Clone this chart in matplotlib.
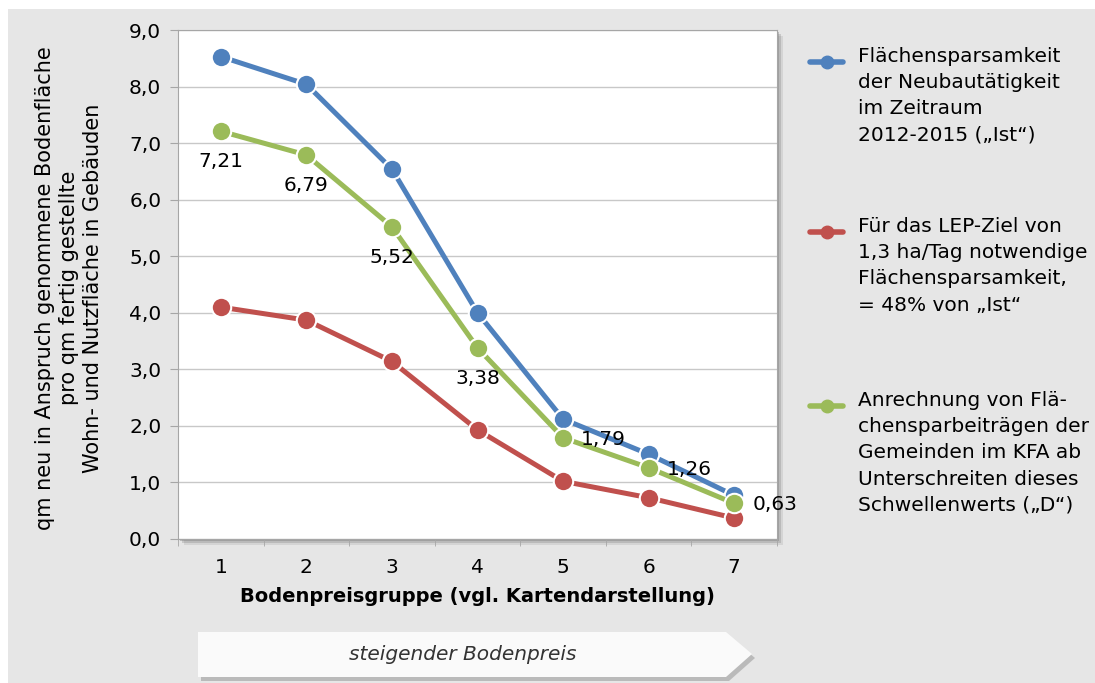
import matplotlib.pyplot as plt
from matplotlib.patches import Rectangle, Polygon

groups = [1, 2, 3, 4, 5, 6, 7]
ist = [8.53, 8.04, 6.54, 4.00, 2.12, 1.50, 0.77]
lep_ziel = [4.10, 3.87, 3.14, 1.93, 1.02, 0.73, 0.37]
anrechnung = [7.21, 6.79, 5.52, 3.38, 1.79, 1.26, 0.63]
anrechnung_labels = ["7,21", "6,79", "5,52", "3,38", "1,79", "1,26", "0,63"]
yticks = [0, 1, 2, 3, 4, 5, 6, 7, 8, 9]
ytick_labels = ["0,0", "1,0", "2,0", "3,0", "4,0", "5,0", "6,0", "7,0", "8,0", "9,0"]

legend_texts = [
    "Flächensparsamkeit\nder Neubautätigkeit\nim Zeitraum\n2012-2015 („Ist“)",
    "Für das LEP-Ziel von\n1,3 ha/Tag notwendige\nFlächensparsamkeit,\n= 48% von „Ist“",
    "Anrechnung von Flä-\nchensparbeiträgen der\nGemeinden im KFA ab\nUnterschreiten dieses\nSchwellenwerts („D“)",
]
colors = ["#4f81bd", "#c0504d", "#9bbb59"]

W, H = 1095, 683
plt.rcParams['font.family'] = 'DejaVu Sans'
fig = plt.figure(figsize=(W / 100, H / 100), dpi=100, facecolor="white")


def fx(px):
    return px / W


def fy(py):
    return 1 - py / H


# grey background panel
fig.patches.append(Rectangle((fx(8), 0), 1, fy(9), transform=fig.transFigure,
                             facecolor="#e6e6e6", edgecolor="none", zorder=0))

ax_l, ax_r, ax_t, ax_b = 178, 777, 30, 539
# plot area shadow
for off, a in [(6, 0.15), (4, 0.25), (2, 0.35)]:
    fig.patches.append(Rectangle((fx(ax_l + off), fy(ax_b + off)), fx(ax_r - ax_l), (ax_b - ax_t) / H,
                                 transform=fig.transFigure, facecolor="#707070", alpha=a,
                                 edgecolor="none", zorder=1))

ax = fig.add_axes([fx(ax_l), fy(ax_b), fx(ax_r - ax_l), (ax_b - ax_t) / H])
ax.set_zorder(2)
ax.set_facecolor("white")

series = [ist, lep_ziel, anrechnung]
for vals, c in zip(series, colors):
    ax.plot(groups, vals, color=c, lw=3.6, marker="o", ms=14, mfc=c, mec="white", mew=1.5,
            solid_joinstyle="round", zorder=3, clip_on=False)

fs = 14.5
for i, (x, y, lab) in enumerate(zip(groups, anrechnung, anrechnung_labels)):
    if i < 4:
        ax.annotate(lab, (x, y), xytext=(0, -22), textcoords="offset points",
                    ha="center", va="center", fontsize=fs, zorder=5)
    else:
        ax.annotate(lab, (x, y), xytext=(13, -1), textcoords="offset points",
                    ha="left", va="center", fontsize=fs, zorder=5)

ax.set_xlim(0.5, 7.5)
ax.set_ylim(0, 9)
ax.set_yticks(yticks)
ax.set_yticklabels(ytick_labels, fontsize=fs)
ax.set_xticks(groups)
ax.set_xticklabels([str(g) for g in groups], fontsize=fs)
ax.set_xticks([g + 0.5 for g in groups[:-1]] + [0.5, 7.5], minor=True)
ax.tick_params(axis="x", which="major", length=0, pad=14)
ax.tick_params(axis="x", which="minor", length=5, color="#a6a6a6")
ax.tick_params(axis="y", length=6, color="#a6a6a6", pad=6)
ax.grid(axis="y", color="#c8c8c8", lw=1)
ax.set_axisbelow(True)
for s in ["top", "right", "left", "bottom"]:
    ax.spines[s].set_color("#a6a6a6")

ax.set_xlabel("Bodenpreisgruppe (vgl. Kartendarstellung)", fontsize=14, fontweight="bold", labelpad=7)
fig.text(fx(69), fy(288), "qm neu in Anspruch genommene Bodenfläche\npro qm fertig gestellte\nWohn- und Nutzfläche in Gebäuden",
         rotation=90, ha="center", va="center", fontsize=15, linespacing=1.25)

# legend
legend_y = [62, 232, 406]
for txt, c, ly in zip(legend_texts, colors, legend_y):
    fig.lines.append(plt.Line2D([fx(810), fx(843)], [fy(ly), fy(ly)], transform=fig.transFigure,
                                color=c, lw=4, solid_capstyle="round"))
    fig.lines.append(plt.Line2D([fx(826.5)], [fy(ly)], transform=fig.transFigure,
                                color=c, marker="o", ms=9, mec=c))
    fig.text(fx(858), fy(ly - 15), txt, ha="left", va="top", fontsize=fs, linespacing=1.48)

# arrow banner
pts = [(198, 632), (726, 632), (752, 654), (726, 677), (198, 677)]
shadow = Polygon([(fx(x + 3), fy(y + 4)) for x, y in pts], closed=True, transform=fig.transFigure,
                 facecolor="#909090", alpha=0.5, edgecolor="none", zorder=1)
banner = Polygon([(fx(x), fy(y)) for x, y in pts], closed=True, transform=fig.transFigure,
                 facecolor="#fafafa", edgecolor="none", zorder=2)
fig.patches.extend([shadow, banner])
fig.text(fx(463), fy(655), "steigender Bodenpreis", ha="center", va="center", fontsize=fs,
         style="italic", color="#333333")

fig.savefig("out.png", dpi=100, facecolor=fig.get_facecolor())
